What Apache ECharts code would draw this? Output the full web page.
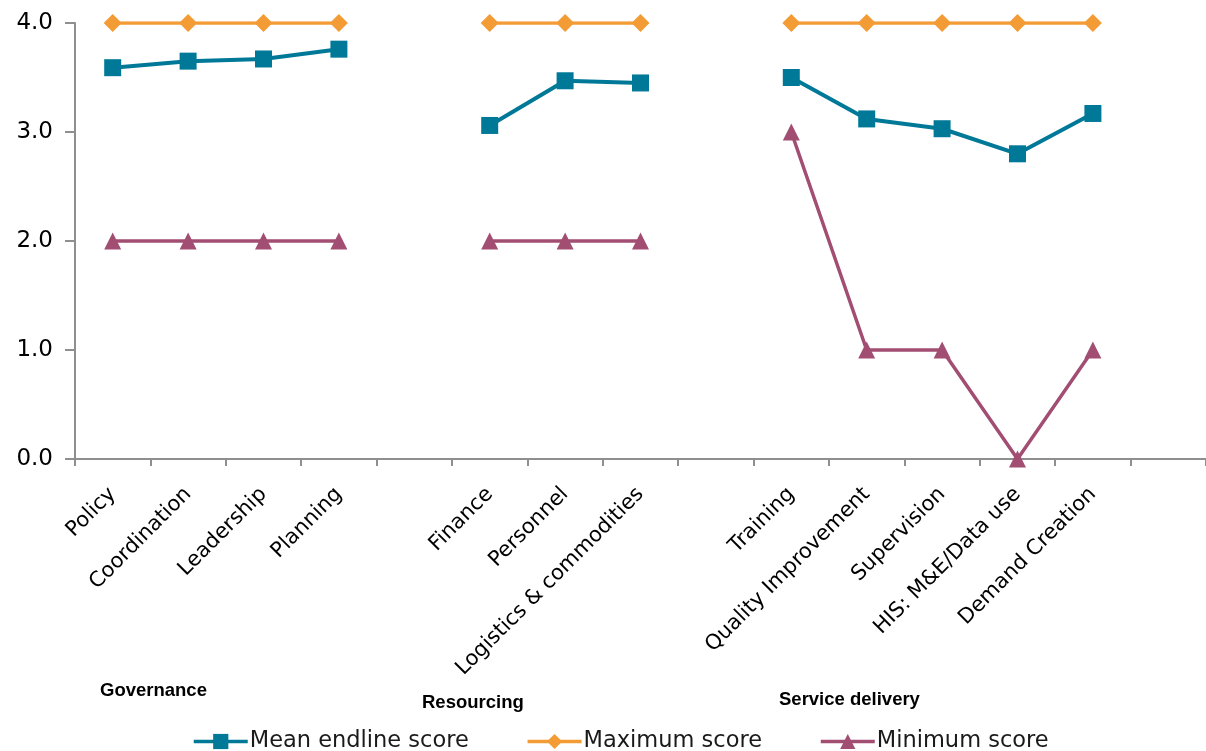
<!DOCTYPE html>
<html>
<head>
<meta charset="utf-8">
<script src="https://cdn.jsdelivr.net/npm/echarts@6/dist/echarts.min.js"></script>
<style>
  html, body { margin: 0; padding: 0; background: #fff; }
  #chart { width: 1206px; height: 751px; }
</style>
</head>
<body>
<div id="chart"></div>
<script>
// Capacity domains; empty slots separate the three groups
const categories = [
  'Policy', 'Coordination', 'Leadership', 'Planning', '',
  'Finance', 'Personnel', 'Logistics & commodities', '',
  'Training', 'Quality Improvement', 'Supervision', 'HIS: M&E/Data use', 'Demand Creation', ''
];
const meanScores = [3.59, 3.65, 3.67, 3.76, null, 3.06, 3.47, 3.45, null, 3.50, 3.12, 3.03, 2.80, 3.17, null];
const maxScores  = [4, 4, 4, 4, null, 4, 4, 4, null, 4, 4, 4, 4, 4, null];
const minScores  = [2, 2, 2, 2, null, 2, 2, 2, null, 3, 1, 1, 0, 1, null];
const groupLabels = ['Governance', 'Resourcing', 'Service delivery'];
const seriesNames = ['Mean endline score', 'Maximum score', 'Minimum score'];

const FONT = 'DejaVu Sans';
const axisGrey = '#8f8f8f';
const teal = '#007998';
const orange = '#f39c36';
const plum = '#a24e73';

const chart = echarts.init(document.getElementById('chart'), null, { renderer: 'canvas' });

chart.setOption({
  animation: false,
  backgroundColor: '#ffffff',
  grid: { left: 75, right: -8, top: 23, bottom: 292, containLabel: false },
  xAxis: {
    type: 'category',
    data: categories,
    boundaryGap: true,
    axisLine: { lineStyle: { color: axisGrey, width: 2 } },
    axisTick: { show: true, alignWithLabel: false, length: 7, lineStyle: { color: axisGrey, width: 2 } },
    axisLabel: {
      rotate: 45,
      interval: 0,
      margin: 32,
      fontFamily: FONT,
      fontSize: 21,
      color: '#000'
    }
  },
  yAxis: {
    type: 'value',
    min: 0,
    max: 4,
    interval: 1,
    splitLine: { show: false },
    axisLine: { show: true, lineStyle: { color: axisGrey, width: 2 } },
    axisTick: { show: true, length: 10, lineStyle: { color: axisGrey, width: 2 } },
    axisLabel: {
      margin: 22,
      fontFamily: FONT,
      fontSize: 23,
      color: '#000',
      formatter: v => v.toFixed(1)
    }
  },
  legend: {
    left: 187,
    top: 725,
    itemWidth: 54,
    itemHeight: 19,
    itemGap: 57,
    lineStyle: { width: 3.5 },
    textStyle: { fontFamily: FONT, fontSize: 22.5, color: '#1a1a1a', padding: [0, 0, 0, -3] },
    data: seriesNames
  },
  series: [
    {
      name: seriesNames[0],
      type: 'line',
      data: meanScores,
      z: 4,
      symbol: 'rect',
      symbolSize: 17,
      lineStyle: { color: teal, width: 4 },
      itemStyle: { color: teal }
    },
    {
      name: seriesNames[1],
      type: 'line',
      data: maxScores,
      z: 3,
      symbol: 'diamond',
      symbolSize: 18,
      lineStyle: { color: orange, width: 3.5 },
      itemStyle: { color: orange }
    },
    {
      name: seriesNames[2],
      type: 'line',
      data: minScores,
      z: 2,
      symbol: 'triangle',
      symbolSize: 17,
      lineStyle: { color: plum, width: 3.5 },
      itemStyle: { color: plum }
    }
  ],
  graphic: [
    { type: 'text', left: 100, top: 681, style: { text: groupLabels[0], fontFamily: 'Liberation Sans', fontWeight: 'bold', fontSize: 18.5, fill: '#000' } },
    { type: 'text', left: 422, top: 693, style: { text: groupLabels[1], fontFamily: 'Liberation Sans', fontWeight: 'bold', fontSize: 18.5, fill: '#000' } },
    { type: 'text', left: 779, top: 690, style: { text: groupLabels[2], fontFamily: 'Liberation Sans', fontWeight: 'bold', fontSize: 18.5, fill: '#000' } }
  ]
});
</script>
</body>
</html>
